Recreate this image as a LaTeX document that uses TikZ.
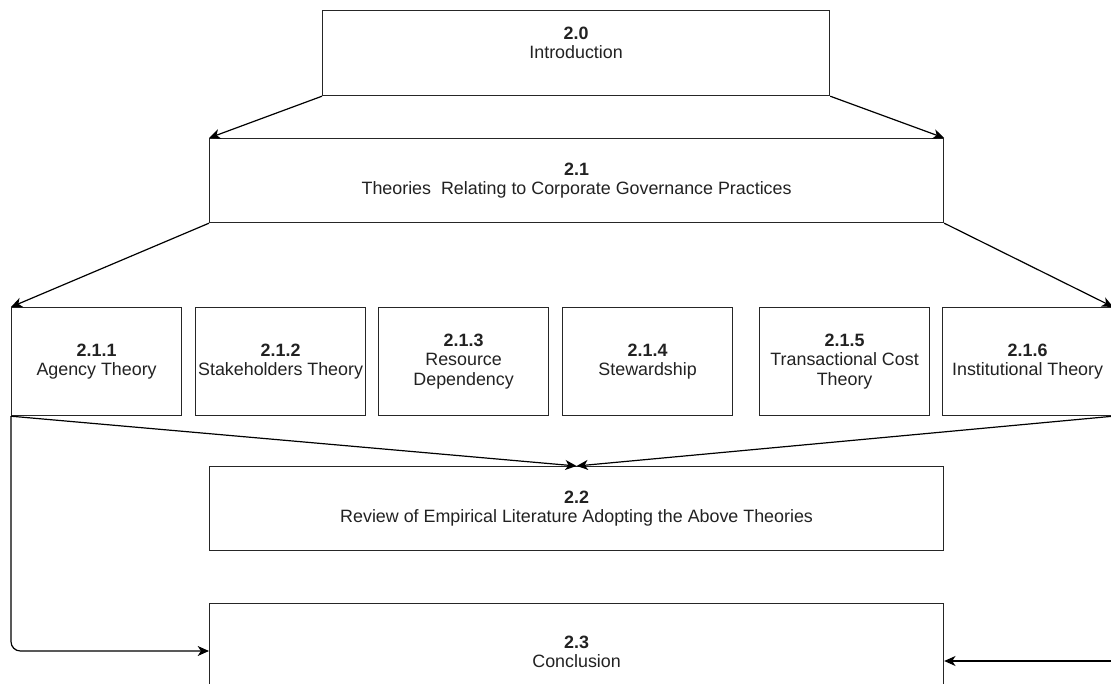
\documentclass[tikz,border=0pt]{standalone}
\usepackage{fontspec}
\setmainfont{Liberation Sans}
\usetikzlibrary{arrows.meta,calc}
\definecolor{txt}{HTML}{222222}
\begin{document}
\begin{tikzpicture}[x=0.75pt,y=-0.75pt,
  lbl/.style={inner sep=0pt, align=center, font=\fontsize{13.4}{14.6}\selectfont, text=txt},
  box/.style={lbl, draw=black!85, line width=0.9pt, anchor=north west},
  wide/.style={box, minimum width=550.5pt, minimum height=63pt},
  theory/.style={box, minimum width=127.5pt, minimum height=81pt},
  arr/.style={-{Stealth[length=8.5pt,width=7.5pt,inset=2.5pt]}, line width=0.9pt}]
\useasboundingbox (0,0) rectangle (1111,684);
\fill[white] (0,0) rectangle (1111,684);
\node[box, minimum width=380.25pt, minimum height=63.75pt] (i) at (322,10) {};
\node[lbl] (itext) at ($(i.center)+(0,-10)$) {\textbf{2.0}\\Introduction};
\node[wide] (t) at (209,138) {\textbf{2.1}\\Theories\ \ Relating to Corporate Governance Practices};
\node[theory] (a1) at (11,307) {\textbf{2.1.1}\\Agency Theory};
\node[theory] (a2) at (195,307) {\textbf{2.1.2}\\Stakeholders Theory};
\node[theory] (a3) at (378,307) {\textbf{2.1.3}\\Resource\\Dependency};
\node[theory] (a4) at (562,307) {\textbf{2.1.4}\\Stewardship};
\node[theory] (a5) at (759,307) {\textbf{2.1.5}\\Transactional Cost\\Theory};
\node[theory] (a6) at (942,307) {\textbf{2.1.6}\\Institutional Theory};
\node[wide] (r) at (209,466) {\textbf{2.2}\\Review of Empirical Literature Adopting the Above Theories};
\node[box, minimum width=550.5pt, minimum height=72pt] (c) at (209,603)
  {\textbf{2.3}\\Conclusion};
\draw[arr] (i.south west) -- (t.north west);
\draw[arr] (i.south east) -- (t.north east);
\draw[arr] (t.south west) -- (a1.north west);
\draw[arr] (t.south east) -- (a6.north east);
\draw[arr] (a1.south west) -- (r.north);
\draw[arr] (a6.south east) -- (r.north);
\draw[arr, rounded corners=7pt] (a1.south west) |- ($(c.north west)+(0,48)$);
\coordinate (re) at (1113,661);
\draw[arr] (re) -- (c.east |- re);
\end{tikzpicture}
\end{document}
